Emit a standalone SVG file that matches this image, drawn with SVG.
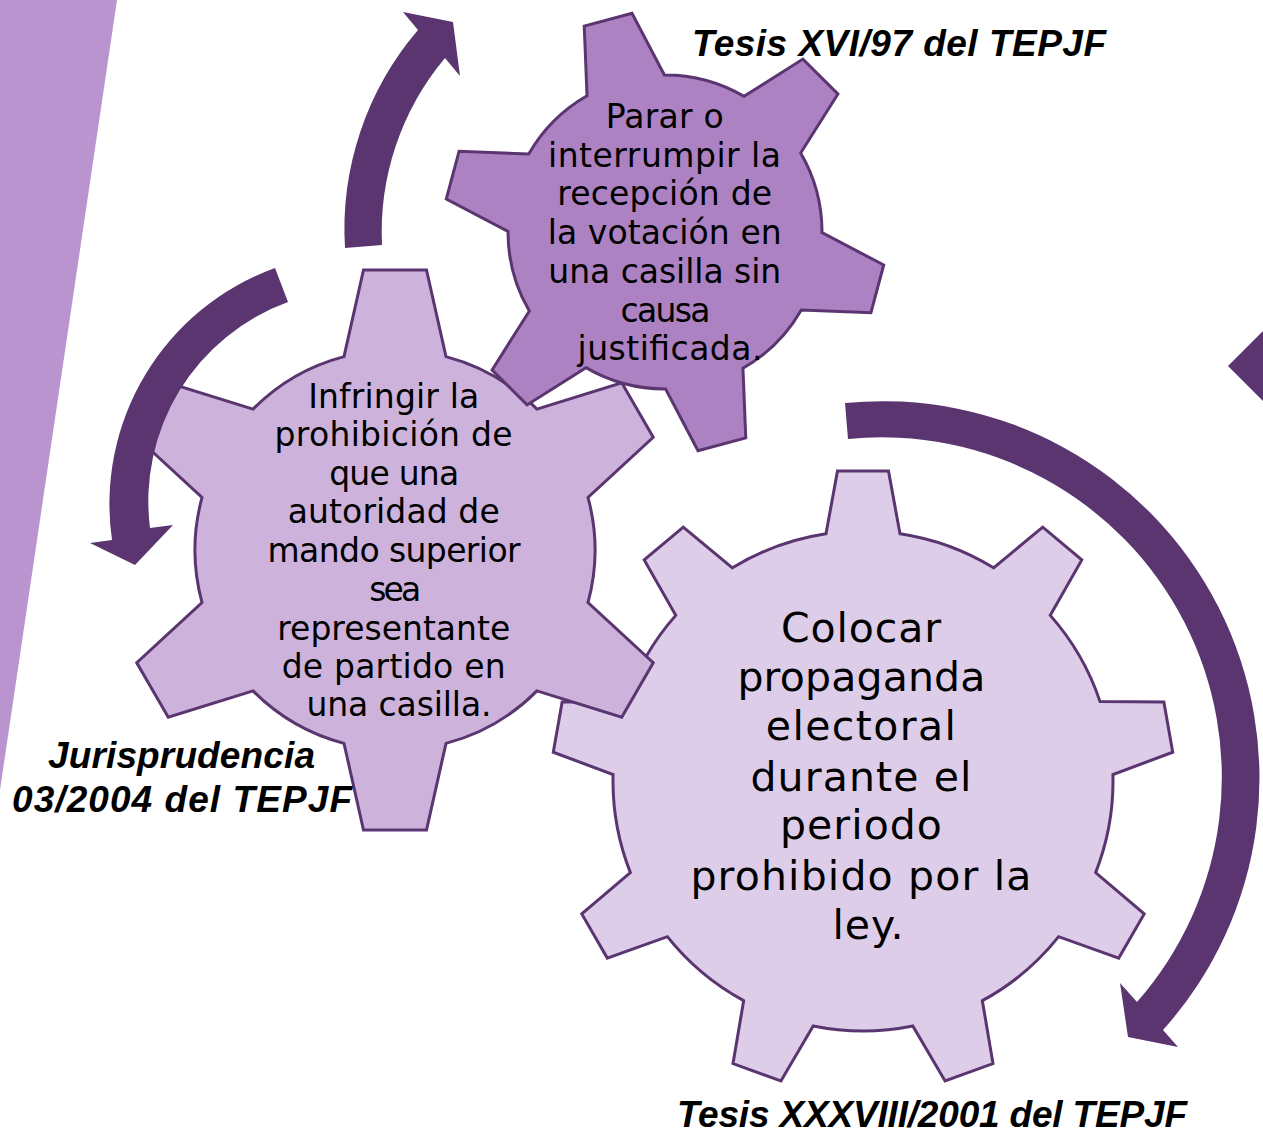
<svg xmlns="http://www.w3.org/2000/svg" width="1263" height="1136" viewBox="0 0 1263 1136">
<style>
.gear{stroke:#5A3570;stroke-width:3;stroke-linejoin:miter}
.arrow{fill:#5A3570}
.gt{font-family:"DejaVu Sans","Noto Sans",sans-serif;fill:#000;text-anchor:middle;font-size:33px}
.gtl{font-size:41px}
.lbl{font-family:"Liberation Sans",Arial,sans-serif;font-weight:bold;font-style:italic;font-size:37px;fill:#000}
</style>
<defs>
<path id="gear6" d="M -51,-193.39 L -31.5,-280 L 31.5,-280 L 51,-193.39 A 200 200 0 0 1 141.98,-140.86 L 226.74,-167.28 L 258.24,-112.72 L 192.98,-52.53 A 200 200 0 0 1 192.98,52.53 L 258.24,112.72 L 226.74,167.28 L 141.98,140.86 A 200 200 0 0 1 51,193.39 L 31.5,280 L -31.5,280 L -51,193.39 A 200 200 0 0 1 -141.98,140.86 L -226.74,167.28 L -258.24,112.72 L -192.98,52.53 A 200 200 0 0 1 -192.98,-52.53 L -258.24,-112.72 L -226.74,-167.28 L -141.98,-140.86 A 200 200 0 0 1 -51,-193.39 Z"/>
</defs>
<g id="background">
<polygon points="0,0 117,0 0,790" fill="#B994CE"/>
<polygon points="1263,331 1228,366 1263,401 1298,366" fill="#5A3570"/>
</g>
<g id="gear-colocar">
<path class="gear" fill="#DDCDE8" transform="translate(863,781)" d="M -37,-247.25 L -25.5,-310 L 25.5,-310 L 37,-247.25 A 250 250 0 0 1 130.59,-213.18 L 179.73,-253.86 L 218.79,-221.08 L 187.27,-165.62 A 250 250 0 0 1 237.06,-79.38 L 300.86,-78.94 L 309.72,-28.72 L 249.92,-6.50 A 250 250 0 0 1 232.63,91.59 L 281.22,132.92 L 255.72,177.08 L 195.63,155.67 A 250 250 0 0 1 119.34,219.69 L 129.99,282.58 L 82.07,300.02 L 49.80,244.99 A 250 250 0 0 1 -49.80,244.99 L -82.07,300.02 L -129.99,282.58 L -119.34,219.69 A 250 250 0 0 1 -195.63,155.67 L -255.72,177.08 L -281.22,132.92 L -232.63,91.59 A 250 250 0 0 1 -249.92,-6.50 L -309.72,-28.72 L -300.86,-78.94 L -237.06,-79.38 A 250 250 0 0 1 -187.27,-165.62 L -218.79,-221.08 L -179.73,-253.86 L -130.59,-213.18 A 250 250 0 0 1 -37,-247.25 Z"/>
<text class="gt gtl">
<tspan x="868" y="642" textLength="160">Colocar</tspan>
<tspan x="868" y="691" textLength="248">propaganda</tspan>
<tspan x="868" y="740" textLength="190">electoral</tspan>
<tspan x="868" y="791" textLength="221">durante el</tspan>
<tspan x="868" y="839" textLength="162">periodo</tspan>
<tspan x="868" y="890" textLength="341">prohibido por la</tspan>
<tspan x="868" y="939" textLength="71">ley.</tspan>
</text>
</g>
<g id="gear-infringir">
<use href="#gear6" class="gear" fill="#CDB3DC" transform="translate(395,550)"/>
<text class="gt">
<tspan x="399" y="408" textLength="171">Infringir la</tspan>
<tspan x="399" y="446" textLength="238">prohibición de</tspan>
<tspan x="399" y="485" textLength="130">que una</tspan>
<tspan x="399" y="523" textLength="212">autoridad de</tspan>
<tspan x="399" y="562" textLength="253">mando superior</tspan>
<tspan x="399" y="601" textLength="52">sea</tspan>
<tspan x="399" y="640" textLength="233">representante</tspan>
<tspan x="399" y="678" textLength="224">de partido en</tspan>
<tspan x="399" y="716" textLength="185">una casilla.</tspan>
</text>
</g>
<g id="gear-parar">
<use href="#gear6" class="gear" fill="#AC82C3" style="stroke-width:3.8" transform="translate(665,232) rotate(-15) scale(0.785)"/>
<text class="gt">
<tspan x="670" y="128" textLength="118">Parar o</tspan>
<tspan x="670" y="167" textLength="233">interrumpir la</tspan>
<tspan x="670" y="205" textLength="215">recepción de</tspan>
<tspan x="670" y="244" textLength="234">la votación en</tspan>
<tspan x="670" y="283" textLength="233">una casilla sin</tspan>
<tspan x="670" y="322" textLength="90">causa</tspan>
<tspan x="670" y="360" textLength="185">justificada.</tspan>
</text>
</g>
<g id="connectors">
<path class="arrow" d="M 345,248 A 306 306 0 0 1 418,30 L 403,12 L 453,22 L 460,76 L 445,58 A 271 271 0 0 0 382,245 Z"/>
<path class="arrow" d="M 275,268 A 251 251 0 0 0 112,540 L 90,543 L 135,565 L 173,525 L 150,528 A 212 212 0 0 1 288,302 Z"/>
<path class="arrow" d="M 845,403 A 377 377 0 0 1 1163,1030 L 1178,1047 L 1128,1037 L 1120,983 L 1137,1002 A 340 340 0 0 0 848,439 Z"/>
</g>
<g id="labels">
<text class="lbl" x="692" y="56" textLength="414">Tesis XVI/97 del TEPJF</text>
<text class="lbl" x="48" y="768" textLength="267">Jurisprudencia</text>
<text class="lbl" x="12" y="812" textLength="340">03/2004 del TEPJF</text>
<text class="lbl" x="677" y="1127" textLength="510">Tesis XXXVIII/2001 del TEPJF</text>
</g>
</svg>
